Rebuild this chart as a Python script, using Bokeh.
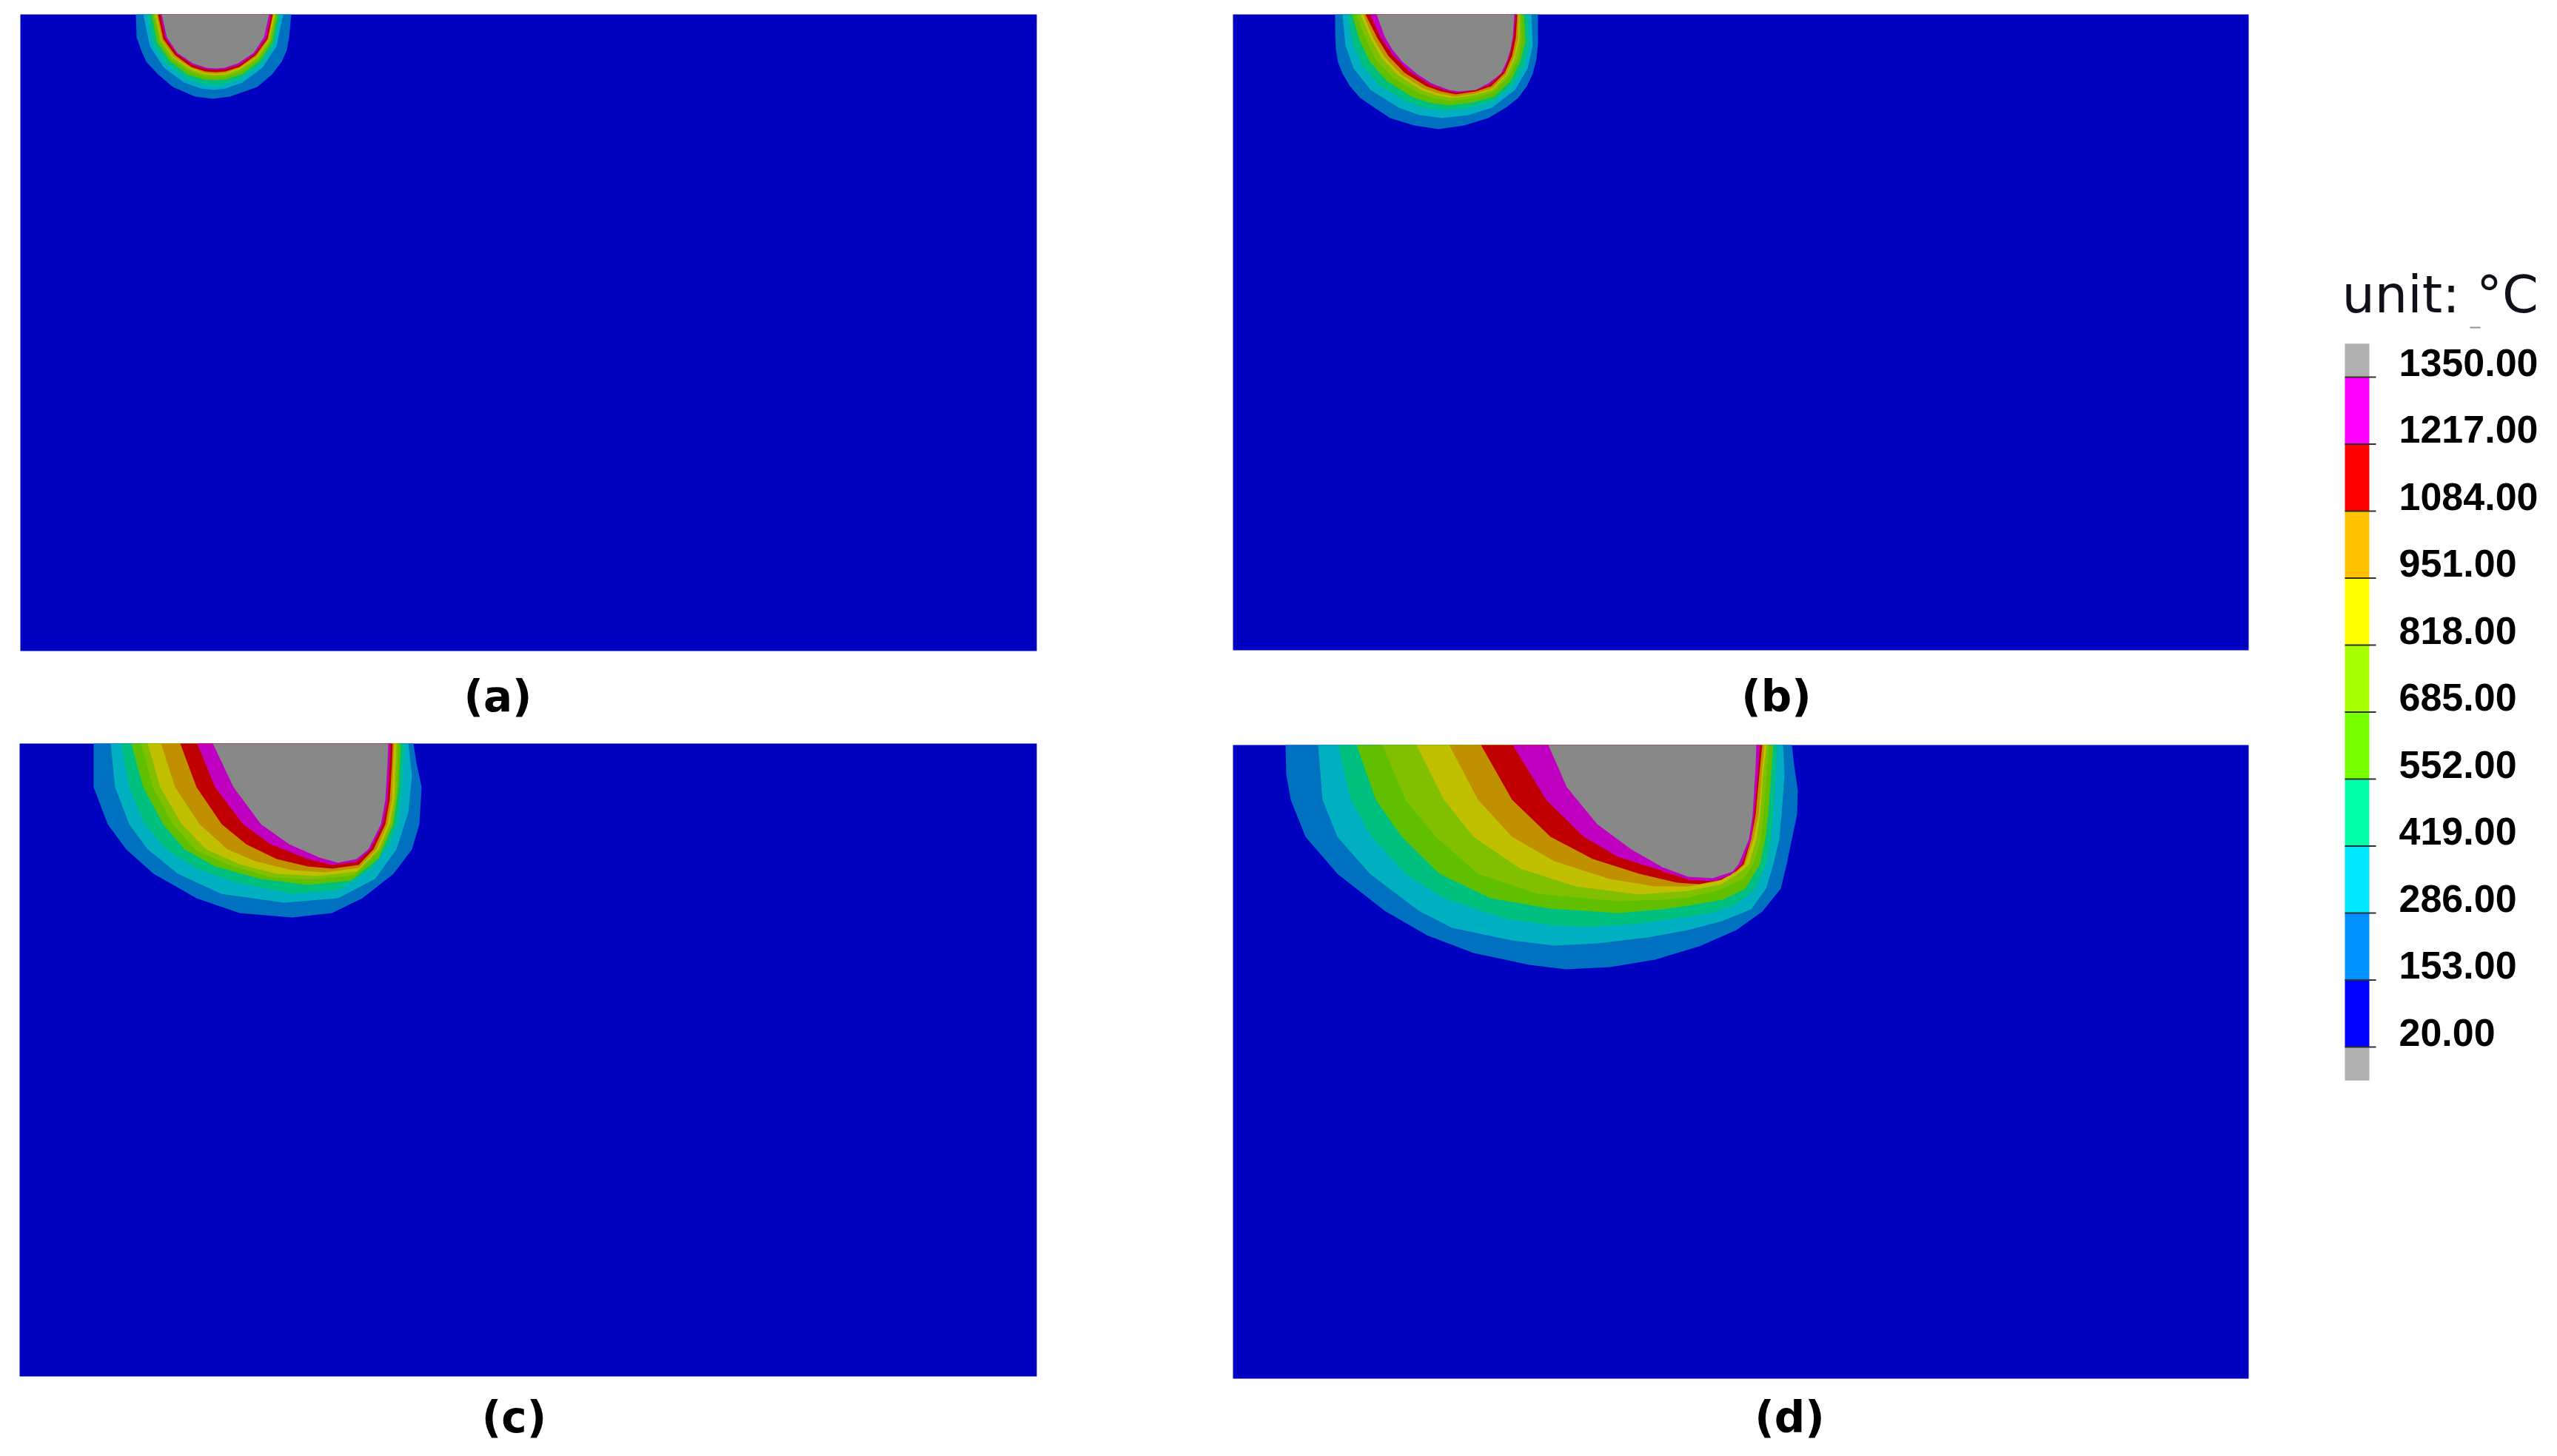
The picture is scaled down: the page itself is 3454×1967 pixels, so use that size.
from bokeh.plotting import figure
from bokeh.models import Range1d
from bokeh.embed import file_html
from bokeh.resources import INLINE
from bokeh.core.properties import value

# ---------------- data ----------------
levels = [20, 153, 286, 419, 552, 685, 818, 951, 1084, 1217, 1350]
level_labels = ["20.00", "153.00", "286.00", "419.00", "552.00", "685.00",
                "818.00", "951.00", "1084.00", "1217.00", "1350.00"]
unit_label = "unit: °C"
panel_names = ["(a)", "(b)", "(c)", "(d)"]

# colour bar colours: below 20, bands 20..1350, above 1350
cb_colors = ["#B0B0B0", "#0000FF", "#0090FF", "#00E8FF", "#00FFA8", "#78FF00",
             "#A8FF00", "#FFFF00", "#FFC000", "#FF0000", "#FF00FF", "#B0B0B0"]
# shaded colours as they appear in the contour panels (20 .. >=1350)
panel_colors = ["#0000C0", "#0070C0", "#00B0C0", "#00C080", "#60C000", "#80C000",
                "#C0C000", "#C09000", "#C00000", "#C000C0", "#888888"]

# isotherm outlines (x, depth) in panel units, for levels 153 ... 1350
a_153 = [(156,0),(157,31),(163,48),(170,64),(186,81),(206,98),(236,111),(260,114),(283,111),(320,98),(340,81),(353,64),(360,48),(363,31),(366,0)]
a_286 = [(166,0),(175,43),(194,72),(221,92),(244,100),(261,102),(277,100),(300,92),(327,72),(346,43),(355,0)]
a_419 = [(172,0),(180,40),(198,67),(224,86),(246,94),(262,95),(277,94),(299,86),(325,67),(343,40),(351,0)]
a_552 = [(177,0),(185,38),(202,63),(226,81),(248,88),(263,89),(277,88),(299,81),(323,63),(340,38),(348,0)]
a_685 = [(180,0),(188,36),(204,60),(228,77),(249,84),(263,85),(277,84),(298,77),(322,60),(338,36),(346,0)]
a_818 = [(182,0),(190,35),(206,58),(229,74),(249,81),(263,82),(277,81),(297,74),(320,58),(336,35),(344,0)]
a_951 = [(184,0),(191,34),(207,57),(230,72),(249,79),(263,80),(277,79),(296,72),(319,57),(335,34),(342,0)]
a_1084 = [(186,0),(193,33),(209,55),(231,71),(250,77),(264,78),(277,77),(296,71),(318,55),(334,33),(341,0)]
a_1217 = [(189,0),(196,32),(211,53),(232,68),(251,74),(264,75),(277,74),(296,68),(317,53),(332,32),(339,0)]
a_1350 = [(191,0),(198,31),(212,52),(233,66),(251,72),(264,73),(276,72),(294,66),(315,52),(329,31),(336,0)]

b_153 = [(138,0),(138,25),(139,47),(142,65),(148,80),(158,97),(172,113),(212,140),(245,150),(278,155),(312,150),(345,140),(370,125),(385,113),(397,97),(405,80),(410,60),(412,40),(412,0)]
b_286 = [(148,0),(152,42),(163,73),(186,102),(224,126),(252,136),(283,140),(318,136),(350,126),(381,102),(398,73),(405,42),(403,0)]
b_419 = [(155,0),(162,39),(174,68),(197,95),(232,117),(258,126),(287,130),(320,126),(352,117),(378,95),(393,68),(400,39),(398,0)]
b_552 = [(161,0),(172,37),(185,64),(208,90),(241,111),(265,119),(292,123),(323,119),(353,111),(375,90),(388,64),(395,37),(393,0)]
b_685 = [(167,0),(180,35),(193,61),(216,85),(248,105),(270,113),(295,117),(325,113),(352,105),(372,85),(385,61),(390,35),(389,0)]
b_818 = [(172,0),(187,34),(201,59),(223,82),(254,102),(275,109),(297,113),(326,109),(351,102),(370,82),(381,59),(387,34),(387,0)]
b_951 = [(176,0),(190,33),(205,58),(227,81),(257,100),(278,107),(299,111),(327,107),(350,100),(369,81),(379,58),(385,33),(386,0)]
b_1084 = [(179,0),(195,32),(210,56),(232,79),(261,97),(281,104),(301,108),(328,104),(349,97),(367,79),(377,56),(382,32),(384,0)]
b_1217 = [(185,0),(200,32),(216,55),(238,77),(266,95),(285,102),(303,106),(328,102),(347,95),(366,77),(374,55),(379,32),(382,0)]
b_1350 = [(194,0),(205,30),(215,47),(228,63),(248,80),(268,93),(292,102),(305,104),(328,102),(345,93),(362,80),(370,63),(375,47),(378,30),(380,0)]

c_153 = [(100,0),(100,59),(119,109),(144,143),(181,176),(239,209),(297,229),(368,235),(422,229),(463,209),(505,176),(530,143),(540,109),(543,59),(536,26),(532,0)]
c_286 = [(123,0),(129,59),(148,109),(173,143),(214,176),(272,203),(357,215),(430,209),(480,183),(509,143),(525,93),(530,43),(525,0)]
c_419 = [(137,0),(148,59),(169,109),(198,143),(239,169),(297,189),(368,203),(430,198),(475,170),(500,135),(510,109),(515,76),(520,0)]
c_552 = [(151,0),(167,59),(194,109),(223,143),(264,166),(326,183),(389,191),(448,185),(485,155),(505,109),(512,59),(515,0)]
c_685 = [(164,0),(180,59),(207,109),(237,143),(280,163),(337,180),(395,184),(452,178),(488,143),(503,109),(509,76),(511,0)]
c_818 = [(173,0),(190,59),(219,109),(252,143),(297,163),(347,176),(401,179),(455,173),(485,143),(500,109),(506,76),(509,0)]
c_951 = [(191,0),(210,59),(243,109),(281,143),(318,159),(368,171),(413,174),(458,168),(482,143),(497,109),(503,76),(506,0)]
c_1084 = [(217,0),(239,59),(273,109),(306,136),(347,156),(389,166),(422,169),(458,164),(478,143),(494,109),(500,76),(503,26),(504,0)]
c_1217 = [(240,0),(264,59),(302,109),(339,136),(389,156),(422,164),(455,160),(474,143),(491,109),(497,76),(500,26),(501,0)]
c_1350 = [(261,0),(289,59),(326,109),(364,136),(405,154),(430,161),(455,156),(471,143),(488,109),(494,76),(497,26),(498,0)]

d_153 = [(71,0),(72,40),(78,74),(98,124),(141,174),(205,224),(262,257),(325,281),(400,297),(450,303),(510,300),(570,290),(630,272),(680,250),(715,225),(740,194),(748,161),(755,127),(762,94),(763,61),(758,27),(755,0)]
d_286 = [(115,0),(121,74),(141,124),(185,174),(251,224),(296,247),(377,264),(434,271),(492,268),(560,260),(615,250),(660,238),(700,222),(720,194),(730,161),(738,127),(741,94),(745,40),(743,0)]
d_419 = [(142,0),(159,74),(187,124),(233,174),(285,207),(365,234),(434,244),(480,246),(549,241),(615,232),(650,226),(680,215),(705,194),(720,161),(726,127),(730,94),(733,40),(735,0)]
d_552 = [(167,0),(193,74),(228,124),(279,174),(348,207),(429,221),(520,227),(580,222),(615,217),(662,209),(692,194),(712,161),(719,127),(723,94),(727,40),(730,0)]
d_685 = [(202,0),(233,74),(274,124),(331,174),(411,201),(520,211),(580,209),(615,206),(660,195),(690,180),(703,161),(713,127),(717,94),(721,40),(724,0)]
d_818 = [(248,0),(285,74),(325,124),(388,167),(463,191),(549,202),(615,197),(660,188),(685,172),(697,161),(707,127),(712,94),(716,40),(721,0)]
d_951 = [(292,0),(331,74),(377,124),(434,157),(509,181),(570,191),(615,191),(655,184),(680,172),(692,161),(703,127),(710,94),(714,40),(718,0)]
d_1084 = [(335,0),(377,74),(429,124),(486,154),(549,174),(600,186),(630,188),(660,182),(680,170),(690,161),(700,127),(706,94),(711,40),(715,0)]
d_1217 = [(378,0),(423,74),(474,124),(520,151),(583,171),(615,182),(650,184),(672,176),(687,161),(695,140),(700,127),(704,94),(709,40),(712,0)]
d_1350 = [(426,0),(451,57),(492,107),(538,141),(580,165),(615,178),(648,180),(675,171),(683,161),(690,144),(697,127),(702,94),(704,61),(706,27),(707,0)]

isotherms = {
    "a": [a_153, a_286, a_419, a_552, a_685, a_818, a_951, a_1084, a_1217, a_1350],
    "b": [b_153, b_286, b_419, b_552, b_685, b_818, b_951, b_1084, b_1217, b_1350],
    "c": [c_153, c_286, c_419, c_552, c_685, c_818, c_951, c_1084, c_1217, c_1350],
    "d": [d_153, d_286, d_419, d_552, d_685, d_818, d_951, d_1084, d_1217, d_1350],
}

# ---------------- layout (page pixels) ----------------
panel_box = {  # left, top, width, height
    "a": (27, 19, 1373, 860),
    "b": (1665, 19, 1372, 859),
    "c": (26, 1004, 1374, 855),
    "d": (1665, 1006, 1372, 856),
}
label_pos = {"a": (672, 940), "b": (2399, 940), "c": (694, 1914), "d": (2417, 1914)}

W, H = 3436, 1949
p = figure(width=W, height=H, x_range=Range1d(0, W), y_range=Range1d(H, 0),
           output_backend="svg", toolbar_location=None, min_border=0,
           x_axis_location=None, y_axis_location=None)
p.grid.visible = False
p.outline_line_color = None
p.background_fill_color = "white"
p.border_fill_color = "white"

for key, name in zip(["a", "b", "c", "d"], panel_names):
    ox, oy, pw, ph = panel_box[key]
    p.quad(left=[ox], right=[ox + pw], top=[oy], bottom=[oy + ph],
           fill_color=panel_colors[0], line_color=None)
    xs = [[ox + x for x, _ in pts] for pts in isotherms[key]]
    ys = [[oy + y for _, y in pts] for pts in isotherms[key]]
    p.patches(xs=xs, ys=ys, fill_color=panel_colors[1:], line_color=None)
    lx, ly = label_pos[key]
    p.text(x=[lx], y=[ly], text=[name], text_align="center", text_baseline="middle",
           text_font=value("DejaVu Sans"), text_font_style="bold",
           text_font_size="58px", text_color="black")

# ---------------- colour bar ----------------
cb_x0, cb_x1, cb_tick_x1 = 3167, 3200, 3209
cb_y_low, cb_step = 1414, 90.5
bounds = [cb_y_low - k * cb_step for k in range(len(levels))]
tops, bots = [], []
tops.append(bounds[0] + cb_step / 2); bots.append(bounds[0])
for k in range(len(levels) - 1):
    tops.append(bounds[k]); bots.append(bounds[k + 1])
tops.append(bounds[-1]); bots.append(bounds[-1] - cb_step / 2)
p.quad(left=cb_x0, right=cb_x1, top=bots, bottom=tops, fill_color=cb_colors, line_color=None)
p.segment(x0=[cb_x0] * len(bounds), x1=[cb_tick_x1] * len(bounds), y0=bounds, y1=bounds,
          line_color="#303030", line_width=2)
p.text(x=[3240] * len(levels), y=[b - 20 for b in bounds], text=level_labels,
       text_align="left", text_baseline="middle",
       text_font=value("Liberation Sans"), text_font_style="bold",
       text_font_size="52px", text_color="black")
p.text(x=[3163], y=[397], text=[unit_label], text_align="left", text_baseline="alphabetic",
       text_font=value("DejaVu Sans"), text_font_size="70px", text_color="#101018")
p.segment(x0=[3336], x1=[3350], y0=[442], y1=[442], line_color="#909090", line_width=2)

open("out.html", "w").write(file_html(p, INLINE))
